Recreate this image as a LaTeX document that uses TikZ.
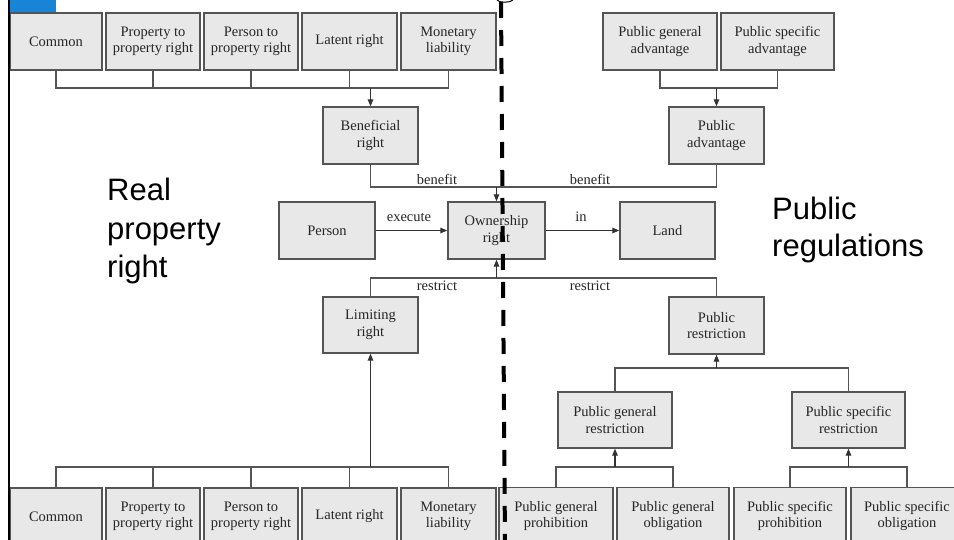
\documentclass[tikz,border=0pt]{standalone}
\usepackage{fontspec}
\setmainfont{Liberation Serif}
\newfontfamily\regsans{Liberation Sans}
\usetikzlibrary{arrows.meta}
\definecolor{boxfill}{RGB}{232,232,232}
\definecolor{boxline}{RGB}{85,85,85}
\definecolor{tabblue}{RGB}{24,132,214}
\begin{document}
\begin{tikzpicture}[x=1pt,y=-1pt,
  box/.style={draw=boxline, fill=boxfill, line width=1.3pt, align=center, inner sep=0pt,
    font=\fontsize{14.5}{16.5}\selectfont, text=black!85, minimum height=57pt},
  wire/.style={draw=boxline, line width=1.2pt},
  arr/.style={draw=black!80, line width=1.2pt, -{Triangle[length=7pt,width=5.5pt]}},
  lbl/.style={font=\fontsize{14.5}{16.5}\selectfont, text=black!85, inner sep=0pt},
  big/.style={font=\regsans\fontsize{31}{38}\selectfont, anchor=base west, inner sep=0pt}]
\fill[white] (0,0) rectangle (954,540);
\useasboundingbox (0,0) rectangle (954,540);

% top-left row
\node[box,minimum width=92pt] (tc1) at (56,41.5) {Common};
\node[box,minimum width=94pt] (tc2) at (153,41.5) {Property to\\property right};
\node[box,minimum width=94pt] (tc3) at (251,41.5) {Person to\\property right};
\node[box,minimum width=95pt] (tc4) at (349.5,41.5) {Latent right};
\node[box,minimum width=95pt] (tc5) at (448.5,41.5) {Monetary\\liability};
% bottom-left row
\node[box,minimum width=92pt] (bc1) at (56,516.5) {Common};
\node[box,minimum width=94pt] (bc2) at (153,516.5) {Property to\\property right};
\node[box,minimum width=94pt] (bc3) at (251,516.5) {Person to\\property right};
\node[box,minimum width=95pt] (bc4) at (349.5,516.5) {Latent right};
\node[box,minimum width=95pt] (bc5) at (448.5,516.5) {Monetary\\liability};
% middle
\node[box,minimum width=95pt] (benef) at (370.5,135.5) {Beneficial\\right};
\node[box,minimum width=95pt,minimum height=56pt] (limit) at (370.5,325) {Limiting\\right};
\node[box,minimum width=96pt] (person) at (327,230.5) {Person};
\node[box,minimum width=97pt] (own) at (496.5,230.5) {Ownership\\right};
\node[box,minimum width=95pt] (land) at (667.5,230.5) {Land};
\node[box,minimum width=95pt] (padv) at (716.5,135.5) {Public\\advantage};
\node[box,minimum width=95pt] (pres) at (716.5,325.5) {Public\\restriction};
% right side
\node[box,minimum width=114pt] (pga) at (660,41.5) {Public general\\advantage};
\node[box,minimum width=113pt] (psa) at (777.5,41.5) {Public specific\\advantage};
\node[box,minimum width=114pt,minimum height=56pt] (pgr) at (615,420) {Public general\\restriction};
\node[box,minimum width=113pt,minimum height=56pt] (psr) at (848.5,420) {Public specific\\restriction};
\node[box,minimum width=114pt] (pgp) at (556,516) {Public general\\prohibition};
\node[box,minimum width=112pt] (pgo) at (673,516) {Public general\\obligation};
\node[box,minimum width=112pt] (psp) at (790,516) {Public specific\\prohibition};
\node[box,minimum width=112pt] (pso) at (907,516) {Public specific\\obligation};

% bus coordinates
\coordinate (busT) at (371,88);
\coordinate (busB) at (371,467);
\coordinate (busPA) at (717,88);
\coordinate (benY) at (0,187);
\coordinate (resY) at (0,278);
\coordinate (busPR) at (716,368);
\coordinate (busGR) at (615,467);
\coordinate (busSR) at (848,467);

% top-left tree
\draw[wire] (tc1.south) -- (tc1.south |- busT) -- (tc5.south |- busT) -- (tc5.south);
\foreach \n in {tc2,tc3,tc4} \draw[wire] (\n.south) -- (\n.south |- busT);
\draw[arr] (benef.north |- busT) -- (benef.north);
% bottom-left tree
\draw[wire] (bc1.north) -- (bc1.north |- busB) -- (bc5.north |- busB) -- (bc5.north);
\foreach \n in {bc2,bc3,bc4} \draw[wire] (\n.north) -- (\n.north |- busB);
\draw[arr] (limit.south |- busB) -- (limit.south);
% top-right tree
\draw[wire] (pga.south) -- (pga.south |- busPA) -- (psa.south |- busPA) -- (psa.south);
\draw[arr] (padv.north |- busPA) -- (padv.north);
% benefit
\draw[wire] (benef.south) -- (benef.south |- benY) -- (padv.south |- benY) -- (padv.south);
\draw[arr] (own.north |- benY) -- (own.north);
% restrict
\draw[wire] (limit.north) -- (limit.north |- resY) -- (pres.north |- resY) -- (pres.north);
\draw[arr] (own.south |- resY) -- (own.south);
% execute / in
\draw[arr] (person.east) -- (own.west);
\draw[arr] (own.east) -- (land.west);
% public restriction tree
\draw[wire] (pgr.north) -- (pgr.north |- busPR) -- (psr.north |- busPR) -- (psr.north);
\draw[arr] (pres.south |- busPR) -- (pres.south);
\draw[wire] (pgp.north) -- (pgp.north |- busGR) -- (pgo.north |- busGR) -- (pgo.north);
\draw[arr] (pgr.south |- busGR) -- (pgr.south);
\draw[wire] (psp.north) -- (psp.north |- busSR) -- (pso.north |- busSR) -- (pso.north);
\draw[arr] (psr.south |- busSR) -- (psr.south);

% edge labels
\node[lbl] (lben1) at (437,179) {benefit};
\node[lbl] (lben2) at (590,179) {benefit};
\node[lbl] (lexe) at (409,217) {execute};
\node[lbl] (lin) at (581,217) {in};
\node[lbl] (lres1) at (437,286) {restrict};
\node[lbl] (lres2) at (590,286) {restrict};

% big labels
\node[big] (rl1) at (107,201) {Real};
\node[big] (rl2) at (107,239.5) {property};
\node[big] (rl3) at (107,277.5) {right};
\node[big] (pr1) at (772,219.5) {Public};
\node[big] (pr2) at (772,257) {regulations};

% dashed divider and decorations
\draw[line width=4pt, dash pattern=on 16pt off 12pt] (501,2) -- (505,545);
\draw[line width=1pt] (497,0) .. controls (499,3) and (510,3) .. (513,0);
\draw[line width=2.5pt] (9,0) -- (9,540);
\fill[tabblue] (10,0) rectangle (56,12);
\end{tikzpicture}
\end{document}
